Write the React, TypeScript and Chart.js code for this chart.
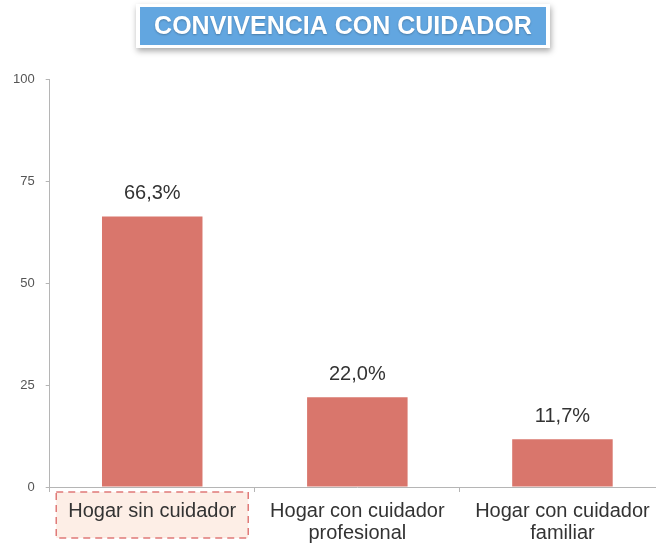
import React, { useEffect, useRef } from "react";
import { Chart, registerables } from "chart.js";

Chart.register(...registerables);

const TITLE = "CONVIVENCIA CON CUIDADOR";
const categories: (string | string[])[] = [
  "Hogar sin cuidador",
  ["Hogar con cuidador", "profesional"],
  ["Hogar con cuidador", "familiar"],
];
const values = [66.3, 22.0, 11.7];
const yTicks = [0, 25, 50, 75, 100];

const FONT = "'Liberation Sans', Arial, Helvetica, sans-serif";

const decorPlugin = {
  id: "decor",
  beforeDraw(chart: any) {
    const ctx = chart.ctx;
    ctx.save();
    // title box
    const bx = 140, by = 7, bw = 406, bh = 38;
    ctx.shadowColor = "rgba(0,0,0,0.35)";
    ctx.shadowBlur = 6;
    ctx.shadowOffsetX = 1;
    ctx.shadowOffsetY = 3;
    ctx.fillStyle = "#ffffff";
    ctx.fillRect(bx - 4, by - 3, bw + 8, bh + 6);
    ctx.shadowColor = "transparent";
    ctx.fillStyle = "#62a6e0";
    ctx.fillRect(bx, by, bw, bh);
    ctx.font = `bold 25px ${FONT}`;
    ctx.textAlign = "center";
    ctx.textBaseline = "middle";
    ctx.fillStyle = "#ffffff";
    ctx.shadowColor = "rgba(0,0,0,0.25)";
    ctx.shadowBlur = 2;
    ctx.shadowOffsetX = 0;
    ctx.shadowOffsetY = 1;
    ctx.fillText(TITLE, bx + bw / 2, by + bh / 2 + 1);
    ctx.restore();

    // dashed highlight box around first category label
    const xs = chart.scales.x;
    const cx = xs.getPixelForValue(0);
    const top = xs.top + 5;
    ctx.save();
    ctx.fillStyle = "#fdeee6";
    ctx.fillRect(cx - 96, top, 192, 46);
    ctx.strokeStyle = "#e07a78";
    ctx.lineWidth = 1.5;
    ctx.setLineDash([7, 5]);
    ctx.strokeRect(cx - 96, top, 192, 46);
    ctx.restore();
  },
  afterDatasetsDraw(chart: any) {
    const ctx = chart.ctx;
    const meta = chart.getDatasetMeta(0);
    ctx.save();
    ctx.font = `20px ${FONT}`;
    ctx.fillStyle = "#333333";
    ctx.textAlign = "center";
    ctx.textBaseline = "middle";
    meta.data.forEach((bar: any, i: number) => {
      const label = values[i].toFixed(1).replace(".", ",") + "%";
      ctx.fillText(label, bar.x, bar.y - 23);
    });
    ctx.restore();
  },
};

export default function App() {
  const ref = useRef<HTMLCanvasElement | null>(null);
  useEffect(() => {
    if (!ref.current) return;
    const chart = new Chart(ref.current, {
      type: "bar",
      data: {
        labels: categories,
        datasets: [
          {
            data: values,
            backgroundColor: "#d9766c",
            borderWidth: 0,
            barPercentage: 0.49,
            categoryPercentage: 1,
          },
        ],
      },
      options: {
        animation: false,
        responsive: false,
        layout: { padding: { top: 79, left: 2, right: 0, bottom: 0 } },
        plugins: {
          legend: { display: false },
          tooltip: { enabled: false },
          title: { display: false },
        },
        scales: {
          x: {
            afterFit: (s: any) => {
              s.paddingLeft = 0;
              s.paddingRight = 0;
            },
            grid: {
              display: true,
              drawOnChartArea: false,
              drawTicks: true,
              tickLength: 5,
              color: "#b5b5b5",
              offset: true,
            },
            border: { color: "#b5b5b5" },
            ticks: {
              color: "#333333",
              padding: 8,
              maxRotation: 0,
              autoSkip: false,
              font: { family: FONT, size: 20, lineHeight: 1.1 },
            },
          },
          y: {
            min: 0,
            max: 100,
            afterBuildTicks: (axis: any) => {
              axis.ticks = yTicks.map((v) => ({ value: v }));
            },
            afterFit: (s: any) => {
              s.paddingTop = 0;
              s.paddingBottom = 0;
            },
            grid: {
              display: true,
              drawOnChartArea: false,
              drawTicks: true,
              tickLength: 4,
              color: "#b5b5b5",
            },
            border: { color: "#b5b5b5" },
            ticks: {
              color: "#555555",
              padding: 11,
              font: { family: FONT, size: 13 },
            },
          },
        },
      },
      plugins: [decorPlugin],
    });
    return () => chart.destroy();
  }, []);

  return (
    <div
      style={{
        position: "absolute",
        left: 0,
        top: 0,
        width: 656,
        height: 548,
        overflow: "hidden",
        background: "#ffffff",
      }}
    >
      <canvas ref={ref} width={665} height={552} style={{ display: "block" }} />
    </div>
  );
}
